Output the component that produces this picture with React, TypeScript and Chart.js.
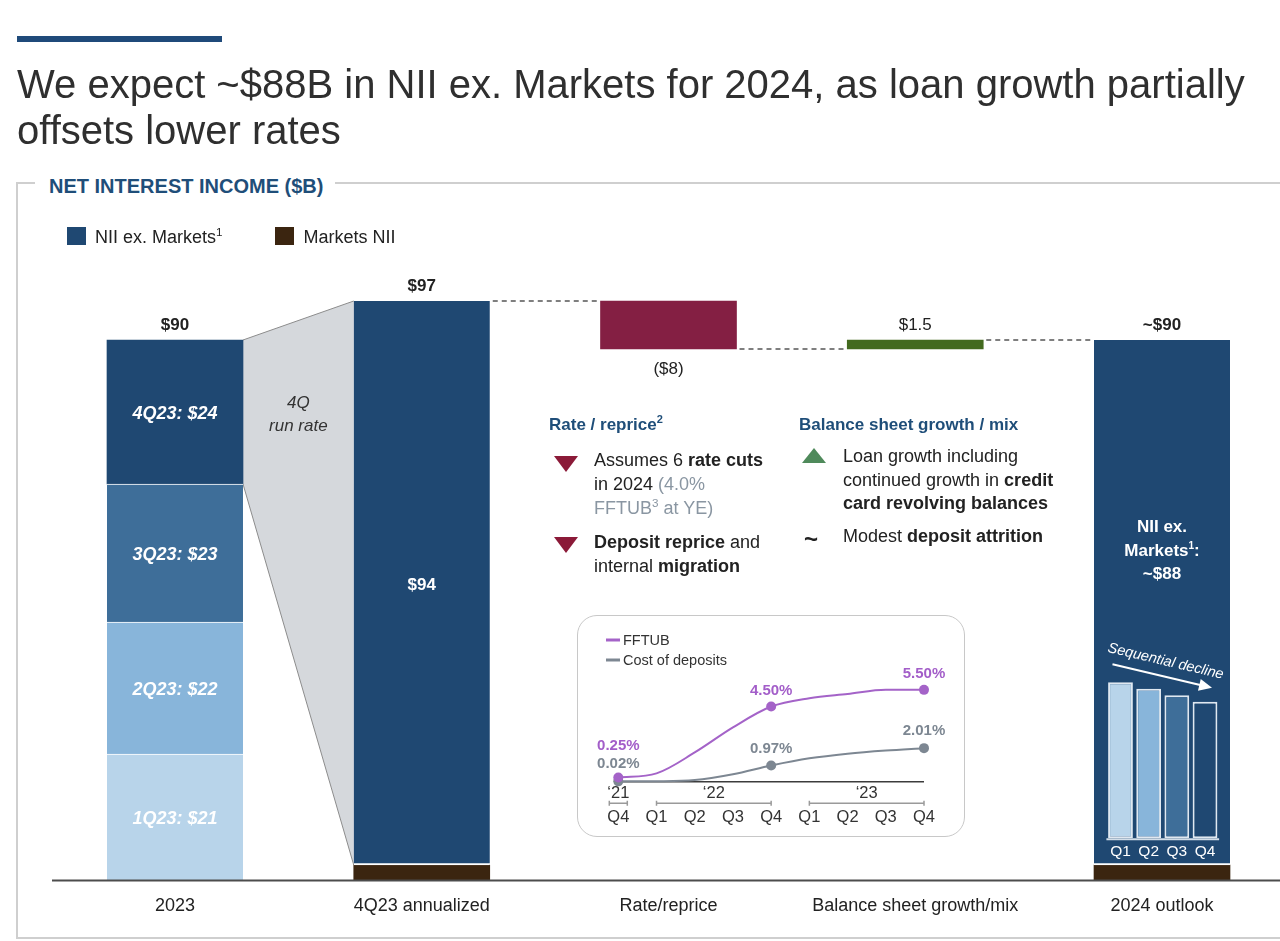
import React, { useEffect, useRef } from "react";
import { Chart, registerables } from "chart.js";

Chart.register(...registerables);

const FONT = '"Liberation Sans", Arial, Helvetica, sans-serif';

// ---------------- data ----------------
const categories = ["2023", "4Q23 annualized", "Rate/reprice", "Balance sheet growth/mix", "2024 outlook"];
const quarters2023 = ["1Q23", "2Q23", "3Q23", "4Q23"];
const nii2023ByQuarter = [21, 22, 23, 24];
const annualizedNiiExMarkets = 94;
const annualizedMarketsNii = 2.5;
const rateRepriceImpact = -8;
const balanceSheetImpact = 1.5;
const outlookMarketsNii = 2.5;
const barTopLabels = ["$90", "$97", "($8)", "$1.5", "~$90"];
const barTopBold = [true, true, false, false, true];
const annualizedInnerLabel = "$94";
const outlookInnerLabel = "~$88";

const outlookQuarters = ["Q1", "Q2", "Q3", "Q4"];
const outlookQuarterlyNii = [24, 23, 22, 21];

const rateQuarters = ["Q4", "Q1", "Q2", "Q3", "Q4", "Q1", "Q2", "Q3", "Q4"];
const rateYearLabels = ["\u201821", "\u201822", "\u201823"];
const rateYearSpans = [[0, 0], [1, 4], [5, 8]];
const fftub = [0.25, 0.5, 1.75, 3.25, 4.5, 5.0, 5.25, 5.5, 5.5];
const costOfDeposits = [0.02, 0.03, 0.1, 0.45, 0.97, 1.4, 1.68, 1.87, 2.01];
const labelledPoints = [0, 4, 8];

// ---------------- styles ----------------
const NAVY = "#1f4872";
const QUARTER_COLORS = ["#b8d4ea", "#88b5da", "#3e6e99", "#1f4872"];
const BROWN = "#3b2510";
const RATE_RED = "#841f43";
const GREEN = "#436a1f";
const PURPLE = "#a463c8";
const GREY_LINE = "#7d8792";
const HEAD_BLUE = "#1f4e79";

function mkFont(size: number, bold = false, italic = false) {
  return `${italic ? "italic " : ""}${bold ? "bold " : ""}${size}px ${FONT}`;
}

type Run = { t: string; size: number; bold?: boolean; italic?: boolean; rise?: number };

function drawRuns(ctx: any, runs: Run[], cx: number, baseline: number, color: string) {
  let total = 0;
  runs.forEach((r) => {
    ctx.font = mkFont(r.size, r.bold, r.italic);
    total += ctx.measureText(r.t).width;
  });
  let x = cx - total / 2;
  ctx.textAlign = "left";
  ctx.textBaseline = "alphabetic";
  ctx.fillStyle = color;
  runs.forEach((r) => {
    ctx.font = mkFont(r.size, r.bold, r.italic);
    ctx.fillText(r.t, x, baseline - (r.rise || 0));
    x += ctx.measureText(r.t).width;
  });
}

function drawText(ctx: any, t: string, x: number, y: number, font: string, color: string, align = "center") {
  ctx.font = font;
  ctx.fillStyle = color;
  ctx.textAlign = align;
  ctx.textBaseline = "alphabetic";
  ctx.fillText(t, x, y);
}

// ---------------- main waterfall ----------------
function MainChart() {
  const ref = useRef<HTMLCanvasElement>(null);
  useEffect(() => {
    const cum = [0];
    nii2023ByQuarter.forEach((v, i) => cum.push(cum[i] + v));
    const annualizedTotal = annualizedNiiExMarkets + annualizedMarketsNii;
    const afterRate = annualizedTotal + rateRepriceImpact;
    const outlookTotal = afterRate + balanceSheetImpact;

    const decor = {
      id: "niiDecor",
      beforeDatasetsDraw(chart: any) {
        const ctx = chart.ctx;
        const q4 = chart.getDatasetMeta(3).data[0];
        const ex = chart.getDatasetMeta(4).data[0];
        const x0 = q4.x + q4.width / 2;
        const x1 = ex.x - ex.width / 2;
        ctx.save();
        ctx.beginPath();
        ctx.moveTo(x0, q4.y);
        ctx.lineTo(x1, ex.y);
        ctx.lineTo(x1, ex.base);
        ctx.lineTo(x0, q4.base);
        ctx.closePath();
        ctx.fillStyle = "#d5d8dc";
        ctx.fill();
        ctx.strokeStyle = "#8c8c8c";
        ctx.lineWidth = 1;
        ctx.beginPath();
        ctx.moveTo(x0, q4.y);
        ctx.lineTo(x1, ex.y);
        ctx.moveTo(x0, q4.base);
        ctx.lineTo(x1, ex.base);
        ctx.stroke();
        ctx.restore();
      },
      afterDatasetsDraw(chart: any) {
        const ctx = chart.ctx;
        const xs = chart.scales.x;
        const ys = chart.scales.y;
        const el = (d: number, i = 0) => chart.getDatasetMeta(d).data[i];
        const ex1 = el(4, 0);
        const ex4 = el(4, 1);
        const rate = el(6);
        const bal = el(7);
        const y0 = ys.getPixelForValue(0);
        ctx.save();
        // dashed connectors
        ctx.setLineDash([5, 4]);
        ctx.strokeStyle = "#555";
        ctx.lineWidth = 1.5;
        const seg = (xa: number, xb: number, y: number) => {
          ctx.beginPath();
          ctx.moveTo(xa + 3, y);
          ctx.lineTo(xb - 3, y);
          ctx.stroke();
        };
        seg(ex1.x + ex1.width / 2, rate.x - rate.width / 2, ys.getPixelForValue(annualizedTotal));
        seg(rate.x + rate.width / 2, bal.x - bal.width / 2, ys.getPixelForValue(afterRate));
        seg(bal.x + bal.width / 2, ex4.x - ex4.width / 2, ys.getPixelForValue(outlookTotal));
        ctx.setLineDash([]);
        // axis line
        ctx.strokeStyle = "#4d4d4d";
        ctx.lineWidth = 2;
        ctx.beginPath();
        ctx.moveTo(chart.chartArea.left + 35, y0 + 0.5);
        ctx.lineTo(chart.chartArea.right, y0 + 0.5);
        ctx.stroke();

        // category labels
        categories.forEach((c, i) => {
          drawText(ctx, c, xs.getPixelForValue(i), y0 + 31, mkFont(18), "#222");
        });

        // top labels
        const tops = [cum[4], annualizedTotal, afterRate, outlookTotal, outlookTotal];
        tops.forEach((v, i) => {
          const py = ys.getPixelForValue(v);
          const below = i === 2 && rateRepriceImpact < 0;
          drawText(ctx, barTopLabels[i], xs.getPixelForValue(i), below ? py + 25 : py - 10, mkFont(17, barTopBold[i]), "#222");
        });

        // quarter labels inside 2023 stack
        quarters2023.forEach((q, i) => {
          const b = el(i);
          drawText(ctx, `${q}: $${nii2023ByQuarter[i]}`, b.x, (b.y + b.base) / 2 + 7, mkFont(18, true, true), "#ffffff");
        });

        // funnel text
        const q4 = el(3);
        const fx = (q4.x + q4.width / 2 + ex1.x - ex1.width / 2) / 2;
        drawText(ctx, "4Q", fx, q4.y + 68, mkFont(17, false, true), "#333");
        drawText(ctx, "run rate", fx, q4.y + 91, mkFont(17, false, true), "#333");

        // inner labels
        drawText(ctx, annualizedInnerLabel, ex1.x, (ex1.y + ex1.base) / 2 + 7, mkFont(17, true), "#ffffff");
        const oy = ex4.y;
        drawText(ctx, "NII ex.", ex4.x, oy + 192, mkFont(17, true), "#ffffff");
        drawRuns(ctx, [
          { t: "Markets", size: 17, bold: true },
          { t: "1", size: 10, bold: true, rise: 7 },
          { t: ":", size: 17, bold: true },
        ], ex4.x, oy + 216, "#ffffff");
        drawText(ctx, outlookInnerLabel, ex4.x, oy + 239, mkFont(17, true), "#ffffff");
        ctx.restore();
      },
    };

    const common = { grouped: false, barThickness: 136, borderSkipped: false };
    const chart = new Chart(ref.current as HTMLCanvasElement, {
      type: "bar",
      data: {
        datasets: [
          ...quarters2023.map((q, i) => ({
            ...common,
            label: q,
            data: [{ x: 0, y: [cum[i], cum[i + 1]] }],
            backgroundColor: QUARTER_COLORS[i],
            borderColor: "#ffffff",
            borderWidth: { top: i < 3 ? 1 : 0, bottom: 0, left: 0, right: 0 },
          })),
          {
            ...common,
            label: "NII ex. Markets",
            data: [
              { x: 1, y: [annualizedMarketsNii, annualizedTotal] },
              { x: 4, y: [outlookMarketsNii, outlookTotal] },
            ],
            backgroundColor: NAVY,
            borderColor: "#ffffff",
            borderWidth: { top: 0, bottom: 2, left: 0, right: 0 },
          },
          {
            ...common,
            label: "Markets NII",
            data: [
              { x: 1, y: [0, annualizedMarketsNii] },
              { x: 4, y: [0, outlookMarketsNii] },
            ],
            backgroundColor: BROWN,
            borderWidth: 0,
          },
          {
            ...common,
            label: "Rate/reprice",
            data: [{ x: 2, y: [afterRate, annualizedTotal] }],
            backgroundColor: RATE_RED,
            borderWidth: 0,
          },
          {
            ...common,
            label: "Balance sheet growth/mix",
            data: [{ x: 3, y: [afterRate, outlookTotal] }],
            backgroundColor: GREEN,
            borderWidth: 0,
          },
        ] as any,
      },
      options: {
        animation: false,
        responsive: false,
        devicePixelRatio: 1,
        layout: { padding: { left: 17, right: 0, top: 280, bottom: 61 } },
        plugins: { legend: { display: false }, tooltip: { enabled: false } },
        scales: {
          x: { type: "linear", offset: false, min: -0.6403, max: 4.4782, display: false },
          y: { min: 0, max: 100, display: false },
        },
      } as any,
      plugins: [decor],
    });
    return () => chart.destroy();
  }, []);
  return <canvas ref={ref} width={1280} height={941} style={{ position: "absolute", left: 0, top: 0, display: "block" }} />;
}

// ---------------- mini quarterly bars in 2024 outlook ----------------
function OutlookMini() {
  const ref = useRef<HTMLCanvasElement>(null);
  useEffect(() => {
    const decor = {
      id: "miniDecor",
      afterDatasetsDraw(chart: any) {
        const ctx = chart.ctx;
        const ys = chart.scales.y;
        const ca = chart.chartArea;
        const bars = chart.getDatasetMeta(0).data;
        const y0 = ys.getPixelForValue(0);
        ctx.save();
        ctx.strokeStyle = "#d3dee9";
        ctx.lineWidth = 2;
        ctx.beginPath();
        ctx.moveTo(ca.left, y0 + 1);
        ctx.lineTo(ca.right, y0 + 1);
        ctx.stroke();
        outlookQuarters.forEach((q, i) => {
          drawText(ctx, q, bars[i].x, y0 + 18, mkFont(15.5), "#ffffff");
        });
        // arrow
        const b0 = bars[0];
        const b3 = bars[bars.length - 1];
        const sx = b0.x - 8, sy = b0.y - 18;
        const ex = b3.x + 7, ey = b3.y - 14;
        const ang = Math.atan2(ey - sy, ex - sx);
        ctx.strokeStyle = "#ffffff";
        ctx.fillStyle = "#ffffff";
        ctx.lineWidth = 2;
        ctx.beginPath();
        ctx.moveTo(sx, sy);
        ctx.lineTo(ex - 10 * Math.cos(ang), ey - 10 * Math.sin(ang));
        ctx.stroke();
        ctx.beginPath();
        ctx.moveTo(ex, ey);
        ctx.lineTo(ex - 13 * Math.cos(ang) + 6 * Math.sin(ang), ey - 13 * Math.sin(ang) - 6 * Math.cos(ang));
        ctx.lineTo(ex - 13 * Math.cos(ang) - 6 * Math.sin(ang), ey - 13 * Math.sin(ang) + 6 * Math.cos(ang));
        ctx.closePath();
        ctx.fill();
        const mx = (sx + ex) / 2 + Math.sin(ang) * 11;
        const my = (sy + ey) / 2 - Math.cos(ang) * 11;
        ctx.translate(mx, my);
        ctx.rotate(ang);
        drawText(ctx, "Sequential decline", 0, 0, mkFont(14.5, false, true), "#ffffff");
        ctx.restore();
      },
    };
    const chart = new Chart(ref.current as HTMLCanvasElement, {
      type: "bar",
      data: {
        labels: outlookQuarters,
        datasets: [
          {
            data: outlookQuarterlyNii,
            backgroundColor: QUARTER_COLORS,
            borderColor: "#dfe8f1",
            borderWidth: 2,
            borderSkipped: false,
            barPercentage: 0.88,
            categoryPercentage: 1,
          },
        ],
      },
      options: {
        animation: false,
        responsive: false,
        devicePixelRatio: 1,
        layout: { padding: { left: 12.4, right: 10.9, top: 69.3, bottom: 26.7 } },
        plugins: { legend: { display: false }, tooltip: { enabled: false } },
        scales: { x: { display: false }, y: { display: false, min: 0, max: 26 } },
      } as any,
      plugins: [decor],
    });
    return () => chart.destroy();
  }, []);
  return <canvas ref={ref} width={136} height={265} style={{ position: "absolute", left: 1094, top: 600, display: "block" }} />;
}

// ---------------- inset rate chart ----------------
function RateInset() {
  const ref = useRef<HTMLCanvasElement>(null);
  useEffect(() => {
    const decor = {
      id: "insetDecor",
      beforeDatasetsDraw(chart: any) {
        const ctx = chart.ctx;
        const xs = chart.scales.x;
        const ys = chart.scales.y;
        const y0 = ys.getPixelForValue(0);
        ctx.save();
        ctx.strokeStyle = "#3c3c3c";
        ctx.lineWidth = 1.5;
        ctx.beginPath();
        ctx.moveTo(xs.getPixelForValue(0), y0);
        ctx.lineTo(xs.getPixelForValue(rateQuarters.length - 1), y0);
        ctx.stroke();
        ctx.restore();
      },
      afterDatasetsDraw(chart: any) {
        const ctx = chart.ctx;
        const xs = chart.scales.x;
        const ys = chart.scales.y;
        const y0 = ys.getPixelForValue(0);
        const m0 = chart.getDatasetMeta(0).data;
        const m1 = chart.getDatasetMeta(1).data;
        ctx.save();
        // legend
        const leg = [
          { t: "FFTUB", c: PURPLE, y: 25 },
          { t: "Cost of deposits", c: GREY_LINE, y: 45 },
        ];
        leg.forEach((l) => {
          ctx.strokeStyle = l.c;
          ctx.lineWidth = 3;
          ctx.beginPath();
          ctx.moveTo(29, l.y);
          ctx.lineTo(43, l.y);
          ctx.stroke();
          drawText(ctx, l.t, 46, l.y + 5, mkFont(14.5), "#333", "left");
        });
        // point labels
        labelledPoints.forEach((i) => {
          const gy = m1[i].y - 13;
          const py = Math.min(m0[i].y - 11.5, gy - 18.5);
          drawText(ctx, `${costOfDeposits[i].toFixed(2)}%`, m1[i].x, gy, mkFont(15, true), GREY_LINE);
          drawText(ctx, `${fftub[i].toFixed(2)}%`, m0[i].x, py, mkFont(15, true), "#a35ec9");
        });
        // year brackets
        ctx.strokeStyle = "#9a9a9a";
        ctx.lineWidth = 1.5;
        rateYearSpans.forEach(([a, b], k) => {
          let xa = xs.getPixelForValue(a);
          let xb = xs.getPixelForValue(b);
          if (a === b) {
            xa -= 9;
            xb += 9;
          }
          const by = y0 + 21.5;
          ctx.beginPath();
          ctx.moveTo(xa, by);
          ctx.lineTo(xb, by);
          ctx.moveTo(xa, by - 2.5);
          ctx.lineTo(xa, by + 2.5);
          ctx.moveTo(xb, by - 2.5);
          ctx.lineTo(xb, by + 2.5);
          ctx.stroke();
          drawText(ctx, rateYearLabels[k], (xa + xb) / 2, y0 + 16.5, mkFont(16.5), "#333");
        });
        rateQuarters.forEach((q, i) => {
          drawText(ctx, q, xs.getPixelForValue(i), y0 + 40.5, mkFont(16.5), "#333");
        });
        ctx.restore();
      },
    };
    const marker = rateQuarters.map((_, i) => (labelledPoints.includes(i) ? 5 : 0));
    const chart = new Chart(ref.current as HTMLCanvasElement, {
      type: "line",
      data: {
        labels: rateQuarters,
        datasets: [
          {
            label: "FFTUB",
            data: fftub,
            borderColor: PURPLE,
            backgroundColor: PURPLE,
            borderWidth: 2,
            pointRadius: marker,
            pointBorderWidth: 0,
            cubicInterpolationMode: "monotone",
            clip: false,
          },
          {
            label: "Cost of deposits",
            data: costOfDeposits,
            borderColor: GREY_LINE,
            backgroundColor: GREY_LINE,
            borderWidth: 2,
            pointRadius: marker,
            pointBorderWidth: 0,
            cubicInterpolationMode: "monotone",
            clip: false,
          },
        ],
      },
      options: {
        animation: false,
        responsive: false,
        devicePixelRatio: 1,
        layout: { padding: { left: 41.3, right: 41, top: 66.5, bottom: 55.3 } },
        plugins: { legend: { display: false }, tooltip: { enabled: false } },
        scales: { x: { display: false, offset: false }, y: { display: false, min: 0, max: 6 } },
      } as any,
      plugins: [decor],
    });
    return () => chart.destroy();
  }, []);
  return <canvas ref={ref} width={388} height={222} style={{ position: "absolute", left: 577, top: 615, display: "block" }} />;
}

// ---------------- HTML helpers ----------------
const sup = (s: string) => (
  <sup style={{ fontSize: "0.65em", verticalAlign: "super", lineHeight: 0 }}>{s}</sup>
);

function Tri({ x, y, w, h, up, color }: any) {
  const pts = up ? `0,${h} ${w / 2},0 ${w},${h}` : `0,0 ${w},0 ${w / 2},${h}`;
  return (
    <svg width={w} height={h} style={{ position: "absolute", left: x, top: y }}>
      <polygon points={pts} fill={color} />
    </svg>
  );
}

const abs = (left: number, top: number, extra: any = {}) => ({ position: "absolute" as const, left, top, whiteSpace: "nowrap" as const, ...extra });

export default function App() {
  const body = { fontSize: 18, lineHeight: "24px", color: "#222" };
  return (
    <div style={{ position: "absolute", left: 0, top: 0, width: 1280, height: 941, overflow: "hidden", background: "#fff", fontFamily: FONT }}>
      {/* frame */}
      <div style={{ position: "absolute", left: 16, top: 182, width: 1270, height: 757, borderTop: "2px solid #cfcfcf", borderLeft: "2px solid #cfcfcf", borderBottom: "2px solid #cfcfcf", boxSizing: "border-box" }} />
      <MainChart />
      {/* inset box */}
      <div style={{ position: "absolute", left: 577, top: 615, width: 388, height: 222, border: "1.5px solid #c8c8c8", borderRadius: 20, boxSizing: "border-box", background: "#fff" }} />
      <RateInset />
      <OutlookMini />

      {/* header */}
      <div style={{ position: "absolute", left: 17, top: 36, width: 205, height: 6, background: "#1f4a7a" }} />
      <div style={abs(17, 61, { fontSize: 40, lineHeight: "46px", color: "#2f2f2f" })}>
        We expect ~$88B in NII ex. Markets for 2024, as loan growth partially
        <br />
        offsets lower rates
      </div>
      <div style={abs(35, 174.5, { fontSize: 20, lineHeight: "22px", fontWeight: "bold", color: HEAD_BLUE, background: "#fff", padding: "0 12px 0 14px" })}>
        NET INTEREST INCOME ($B)
      </div>

      {/* legend */}
      <div style={{ position: "absolute", left: 67, top: 227, width: 19, height: 18, background: NAVY }} />
      <div style={abs(95, 226.8, { fontSize: 18, lineHeight: "20px", color: "#222" })}>NII ex. Markets{sup("1")}</div>
      <div style={{ position: "absolute", left: 275, top: 227, width: 19, height: 18, background: BROWN }} />
      <div style={abs(303.5, 226.8, { fontSize: 18, lineHeight: "20px", color: "#222" })}>Markets NII</div>

      {/* rate / reprice text */}
      <div style={abs(549, 414.8, { fontSize: 17, lineHeight: "20px", fontWeight: "bold", color: HEAD_BLUE })}>
        Rate / reprice{sup("2")}
      </div>
      <Tri x={554} y={456} w={24} h={16} color="#8b1a38" />
      <div style={abs(594, 447.8, body)}>
        Assumes 6 <b>rate cuts</b>
        <br />
        in 2024 <span style={{ color: "#8a96a2" }}>(4.0%</span>
        <br />
        <span style={{ color: "#8a96a2" }}>FFTUB{sup("3")} at YE)</span>
      </div>
      <Tri x={554} y={537} w={24} h={16} color="#8b1a38" />
      <div style={abs(594, 529.5, { ...body, lineHeight: "24.5px" })}>
        <b>Deposit reprice</b> and
        <br />
        internal <b>migration</b>
      </div>

      {/* balance sheet text */}
      <div style={abs(799, 414.8, { fontSize: 17, lineHeight: "20px", fontWeight: "bold", color: HEAD_BLUE })}>
        Balance sheet growth / mix
      </div>
      <Tri x={802} y={448} w={24} h={15} up color="#4f8a5b" />
      <div style={abs(843, 445, { ...body, lineHeight: "23.5px" })}>
        Loan growth including
        <br />
        continued growth in <b>credit</b>
        <br />
        <b>card revolving balances</b>
      </div>
      <div style={abs(804, 527, { fontSize: 24, lineHeight: "24px", fontWeight: "bold", color: "#222" })}>~</div>
      <div style={abs(843, 523.5, body)}>
        Modest <b>deposit attrition</b>
      </div>
    </div>
  );
}
